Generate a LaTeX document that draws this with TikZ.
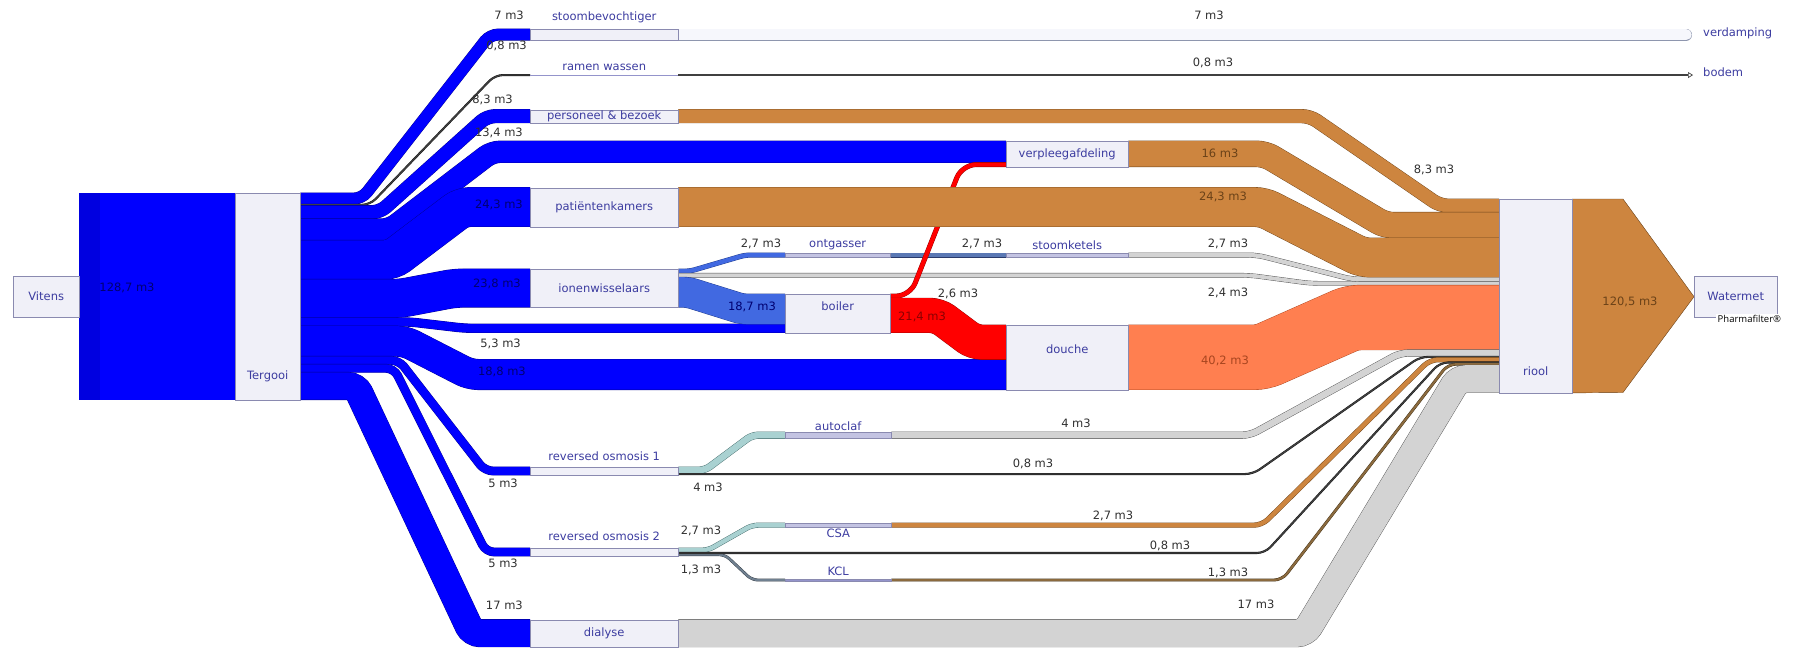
\documentclass[tikz,border=0pt]{standalone}
\usepackage{fontspec}
\setmainfont{DejaVu Sans}
\newfontfamily\pharmafont{Open Sans}
\usetikzlibrary{arrows.meta}
\pgfdeclarelayer{flows}
\pgfsetlayers{flows,main}
\definecolor{skBlue}{HTML}{0000FF}
\definecolor{skBlueDk}{HTML}{00008B}
\definecolor{skRoyal}{HTML}{4169E1}
\definecolor{skRoyalDk}{HTML}{1F3A8A}
\definecolor{skSlate}{HTML}{5A78B4}
\definecolor{skSlateDk}{HTML}{2A3A6A}
\definecolor{skStone}{HTML}{708090}
\definecolor{skStoneDk}{HTML}{303840}
\definecolor{skBrown}{HTML}{CD853F}
\definecolor{skBrownDk}{HTML}{6B4218}
\definecolor{skUmber}{HTML}{8B6A3E}
\definecolor{skUmberDk}{HTML}{3A2A10}
\definecolor{skCoral}{HTML}{FF7F50}
\definecolor{skCoralDk}{HTML}{A8451F}
\definecolor{skRed}{HTML}{FF0000}
\definecolor{skRedDk}{HTML}{8B0000}
\definecolor{skGrey}{HTML}{D3D3D3}
\definecolor{skGreyDk}{HTML}{505050}
\definecolor{skTeal}{HTML}{A9D1D1}
\definecolor{skTealDk}{HTML}{406868}
\definecolor{skInk}{HTML}{404040}
\definecolor{skInkDk}{HTML}{101010}
\definecolor{skPale}{HTML}{F6F7FC}
\definecolor{skPaleDk}{HTML}{8E96AE}
\definecolor{skNode}{HTML}{F0F0F8}
\definecolor{skNodeDk}{HTML}{8A8AB0}
\definecolor{skLabel}{HTML}{3C3CA0}
\definecolor{skValue}{HTML}{303030}
\definecolor{skDeep}{HTML}{000070}
\tikzset{
  flow/.style 2 args={draw=#1Dk, double=#1, double distance=#2pt, line width=0.4pt,
    rounded corners=8pt},
  sknode/.style={rectangle, draw=skNodeDk, fill=skNode, anchor=north west, inner sep=0pt,
    font=\fontsize{11.5}{13}\selectfont, text=skLabel},
  thinnode/.style={rectangle, draw=skNodeDk, fill=skNode!75!skLabel, anchor=north west,
    inner sep=0pt},
  nodetext/.style={font=\fontsize{11.5}{13}\selectfont, text=skLabel, inner sep=1pt},
  value/.style={font=\fontsize{11.5}{13}\selectfont, text=skValue, inner sep=1pt},
  onflow/.style={font=\fontsize{11.5}{13}\selectfont, text=#1, inner sep=1pt}
}

\begin{document}
\begin{tikzpicture}[x=1pt, y=-1pt]
  \useasboundingbox (0,0) rectangle (1793,651);
  % sources, users and sinks
  \node[sknode, minimum width=66pt, minimum height=41pt] (vi) at (13,276) {Vitens};
  \node[sknode, minimum width=65pt, minimum height=206.7pt,
    label={[nodetext, above=17pt]south:Tergooi}] (tg) at (235,193) {};
  \node[sknode, minimum width=148pt, minimum height=11.2pt,
    label={[nodetext, above=5pt]north:stoombevochtiger}] (sb) at (530,29) {};
  \node[thinnode, fill=skLabel!55, draw=none, minimum width=148pt, minimum height=1.3pt,
    label={[nodetext, above=3pt]north:ramen wassen}] (rw) at (530,74.4) {};
  \node[sknode, minimum width=148pt, minimum height=13.3pt] (pb) at (530,109.5) {personeel \& bezoek};
  \node[sknode, minimum width=148pt, minimum height=39pt] (pk) at (530,187.5) {patiëntenkamers};
  \node[sknode, minimum width=148pt, minimum height=38.2pt] (io) at (530,269) {ionenwisselaars};
  \node[sknode, minimum width=148pt, minimum height=8pt,
    label={[nodetext, above=5pt]north:reversed osmosis 1}] (r1) at (530,467) {};
  \node[sknode, minimum width=148pt, minimum height=8pt,
    label={[nodetext, above=6pt]north:reversed osmosis 2}] (r2) at (530,548) {};
  \node[sknode, minimum width=148pt, minimum height=27.3pt] (dl) at (530,619.5) {dialyse};
  \node[thinnode, minimum width=105pt, minimum height=4.3pt,
    label={[nodetext, above=2pt]north:ontgasser}] (og) at (785,252.9) {};
  \node[sknode, minimum width=105pt, minimum height=38.5pt,
    label={[nodetext, yshift=7pt]center:boiler}] (bo) at (785,294) {};
  \node[thinnode, minimum width=106pt, minimum height=6.4pt,
    label={[nodetext, above=0pt]north:autoclaf}] (ac) at (785,432) {};
  \node[thinnode, minimum width=106pt, minimum height=4.3pt,
    label={[nodetext, below=0pt]south:CSA}] (cs) at (785,523) {};
  \node[thinnode, fill=skLabel!55, minimum width=106pt, minimum height=2.1pt,
    label={[nodetext, above=2pt]north:KCL}] (kc) at (785,579) {};
  \node[sknode, minimum width=122pt, minimum height=25.7pt] (vp) at (1006,141) {verpleegafdeling};
  \node[thinnode, minimum width=122pt, minimum height=4.3pt,
    label={[nodetext, above=2pt]north:stoomketels}] (sk) at (1006,252.9) {};
  \node[sknode, minimum width=122pt, minimum height=64.6pt,
    label={[nodetext, yshift=8pt]center:douche}] (dc) at (1006,325) {};
  \node[sknode, minimum width=73pt, minimum height=193.5pt,
    label={[nodetext, above=16pt]south:riool}] (ri) at (1499,199) {};
  \node[sknode, minimum width=83pt, minimum height=41pt] (wm) at (1694,276) {Watermet};
  \node[nodetext, anchor=west] (vd) at (1702,33) {verdamping};
  \node[nodetext, anchor=west] (bd) at (1702,72) {bodem};
  \node[fill=white, anchor=west, inner sep=1.5pt,
    font=\pharmafont\fontsize{9.5}{11}\selectfont] (ph) at (1716,319) {Pharmafilter®};

  % amounts
  \node[onflow=skDeep] (qvt) at (127,288) {128,7 m3};
  \node[value, anchor=east] (qsb) at (525,15) {7 m3};
  \node[value, anchor=east] (qrw) at (528,46) {0,8 m3};
  \node[value, anchor=east] (qpb) at (514,100) {8,3 m3};
  \node[value, anchor=east] (qvp) at (524,133) {13,4 m3};
  \node[onflow=skDeep, anchor=east] (qpk) at (524,205) {24,3 m3};
  \node[onflow=skDeep, anchor=east] (qio) at (522,284) {23,8 m3};
  \node[value, anchor=east] (qbo) at (522,344) {5,3 m3};
  \node[onflow=skDeep, anchor=east] (qdc) at (527,372) {18,8 m3};
  \node[value, anchor=east] (qr1) at (519,483) {5 m3};
  \node[value, anchor=east] (qr2) at (519,563) {5 m3};
  \node[value, anchor=east] (qdl) at (524,605) {17 m3};
  \node[value] (qog) at (761,244) {2,7 m3};
  \node[onflow=skDeep] (qib) at (752,307) {18,7 m3};
  \node[value] (qac) at (708,487) {4 m3};
  \node[value] (qcs) at (701,531) {2,7 m3};
  \node[value] (qkc) at (701,570) {1,3 m3};
  \node[value] (qsk) at (982,244) {2,7 m3};
  \node[value] (qbv) at (958,294) {2,6 m3};
  \node[onflow=skRedDk] (qbd) at (922,317) {21,4 m3};
  \node[value] (qvd) at (1209,15) {7 m3};
  \node[value] (qbm) at (1213,63) {0,8 m3};
  \node[value] (qpr) at (1434,170) {8,3 m3};
  \node[onflow=skBrownDk] (qvr) at (1220,153) {16 m3};
  \node[onflow=skBrownDk] (qkr) at (1223,197) {24,3 m3};
  \node[value] (qsr) at (1228,244) {2,7 m3};
  \node[value] (qir) at (1228,293) {2,4 m3};
  \node[onflow=skCoralDk] (qdr) at (1225,361) {40,2 m3};
  \node[value] (qar) at (1076,423) {4 m3};
  \node[value] (q1r) at (1033,464) {0,8 m3};
  \node[value] (qcr) at (1113,516) {2,7 m3};
  \node[value] (q2r) at (1170,546) {0,8 m3};
  \node[value] (qlk) at (1228,573) {1,3 m3};
  \node[value] (qlr) at (1256,604) {17 m3};
  \node[onflow=skBrownDk] (qri) at (1630,302) {120,5 m3};

  \begin{pgfonlayer}{flows}
    % water from Vitens
    \draw[flow={skBlue}{206.7}] (vi.east |- 0,296.35) -- (tg.west |- 0,296.35);
    \fill[skBlue!88!black] (vi.east |- tg.north) rectangle (100,399.7);
    % Tergooi to the users
    \draw[flow={skBlue}{11.24}] (tg.east |- 0,198.6) -- (362,198.6) -- (490,34.6) -- (sb.west |- 0,34.6);
    \draw[flow={skInk}{1.28}] (tg.east |- 0,204.85) -- (370,204.85) -- (495,75.05) -- (rw.west |- 0,75.05);
    \draw[flow={skBlue}{13.33}] (tg.east |- 0,212.2) -- (380,212.2) -- (487,116.15) -- (pb.west |- 0,116.15);
    \draw[flow={skBlue}{21.52}] (tg.east |- 0,229.6) -- (390,229.6) -- (492,151.76) -- (vp.west |- 0,151.76);
    \draw[flow={skBlue}{39.03}] (tg.east |- 0,259.9) -- (392,259.9) -- (462,207) -- (pk.west |- 0,207);
    \draw[flow={skBlue}{38.22}] (tg.east |- 0,298.5) -- (400,298.5) -- (455,288.1) -- (io.west |- 0,288.1);
    \draw[flow={skBlue}{8.51}] (tg.east |- 0,321.9) -- (410,321.9) -- (465,328.3) -- (bo.west |- 0,328.3);
    \draw[flow={skBlue}{30.19}] (tg.east |- 0,341.2) -- (405,341.2) -- (470,374.5) -- (dc.west |- 0,374.5);
    \draw[flow={skBlue}{8.03}] (tg.east |- 0,360.3) -- (399,360.3) -- (485,471) -- (r1.west |- 0,471);
    \draw[flow={skBlue}{8.03}] (tg.east |- 0,368.3) -- (394,368.3) -- (486,552) -- (r2.west |- 0,552);
    \draw[flow={skBlue}{27.3}] (tg.east |- 0,386) -- (356,386) -- (472,633.15) -- (dl.west |- 0,633.15);
    % losses
    \draw[flow={skPale}{11.24}, line cap=round, shorten >=16pt] (sb.east |- 0,34.6) -- (vd.west |- 0,34.6);
    \draw[draw=skInk, line width=1.3pt, shorten >=9pt,
      -{Triangle[open, length=5pt, width=6pt, line width=0.7pt]}] (rw.east |- 0,75.05) -- (bd.west |- 0,75.05);
    % ion exchangers, degasser and boiler
    \draw[flow={skRoyal}{4.34}, rounded corners=5pt] (io.east |- 0,271.17) -- (690,271.17) -- (745,255.07) -- (og.west |- 0,255.07);
    \draw[flow={skGrey}{3.85}] (io.east |- 0,275.27) -- (1250,275.27) -- (1310,283.33) -- (ri.west |- 0,283.33);
    \draw[flow={skRoyal}{30.03}, rounded corners=5pt] (io.east |- 0,292.2) -- (688,292.2) -- (742,309.02) -- (bo.west |- 0,309.02);
    \draw[flow={skSlate}{4.34}] (og.east |- 0,255.07) -- (sk.west |- 0,255.07);
    \draw[flow={skGrey}{4.34}] (sk.east |- 0,255.07) -- (1257,255.07) -- (1352,279.23) -- (ri.west |- 0,279.23);
    \draw[flow={skRed}{4.18}, rounded corners=14pt] (bo.east |- 0,296.09) -- (910,296.09) -- (962,164.6) -- (vp.west |- 0,164.6);
    \draw[flow={skRed}{34.37}] (bo.east |- 0,315.36) -- (938,315.36) -- (974,342.2) -- (dc.west |- 0,342.2);
    % reversed osmosis
    \draw[flow={skTeal}{6.42}, rounded corners=6pt] (r1.east |- 0,470.2) -- (705,470.2) -- (752,435.2) -- (ac.west |- 0,435.2);
    \draw[flow={skTeal}{4.34}, rounded corners=6pt] (r2.east |- 0,550.17) -- (708,550.17) -- (752,525.17) -- (cs.west |- 0,525.17);
    \draw[flow={skStone}{2.09}, rounded corners=6pt] (r2.east |- 0,554.66) -- (725,554.66) -- (752,580.04) -- (kc.west |- 0,580.04);
    % into the sewer
    \draw[flow={skBrown}{13.33}] (pb.east |- 0,116.15) -- (1310,116.15) -- (1440,205.67) -- (ri.west |- 0,205.67);
    \draw[flow={skBrown}{25.7}] (vp.east |- 0,153.85) -- (1265,153.85) -- (1385,225.18) -- (ri.west |- 0,225.18);
    \draw[flow={skBrown}{39.03}] (pk.east |- 0,207) -- (1263,207) -- (1362,257.54) -- (ri.west |- 0,257.54);
    \draw[flow={skCoral}{64.56}] (dc.east |- 0,357.3) -- (1262,357.3) -- (1352,317.53) -- (ri.west |- 0,317.53);
    \draw[flow={skGrey}{6.42}] (ac.east |- 0,435.2) -- (1250,435.2) -- (1400,353.02) -- (ri.west |- 0,353.02);
    \draw[flow={skInk}{1.28}] (r1.east |- 0,474.06) -- (1253,474.06) -- (1420,356.87) -- (ri.west |- 0,356.87);
    \draw[flow={skBrown}{4.34}] (cs.east |- 0,525.17) -- (1262,525.17) -- (1430,359.68) -- (ri.west |- 0,359.68);
    \draw[flow={skInk}{1.28}] (r2.east |- 0,552.98) -- (1265,552.98) -- (1440,362.49) -- (ri.west |- 0,362.49);
    \draw[flow={skUmber}{2.09}] (kc.east |- 0,580.04) -- (1282,580.04) -- (1448,364.17) -- (ri.west |- 0,364.17);
    \draw[flow={skGrey}{27.3}] (dl.east |- 0,633.15) -- (1305,633.15) -- (1458,378.87) -- (ri.west |- 0,378.87);
    % sewer to Watermet
    \draw[fill=skBrown, draw=skBrownDk, line width=0.4pt] (ri.north east) -- (1623,199) -- (wm.west)
      -- (1623,392.5) -- (ri.south east) -- cycle;
  \end{pgfonlayer}
\end{tikzpicture}
\end{document}
